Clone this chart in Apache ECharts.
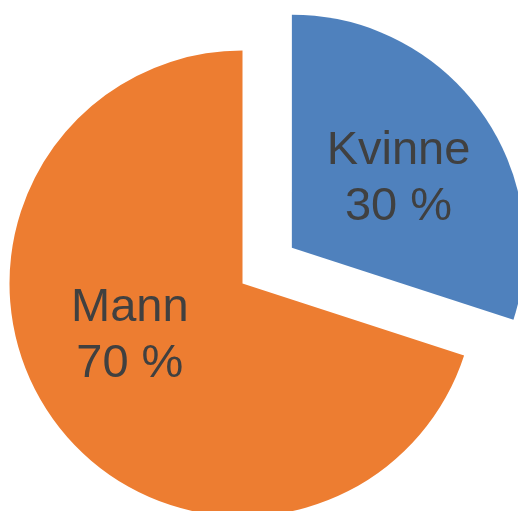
<!DOCTYPE html>
<html>
<head>
<meta charset="utf-8">
<script src="https://cdn.jsdelivr.net/npm/echarts@6/dist/echarts.min.js"></script>
<style>html,body{margin:0;padding:0;background:#fff;}#c{width:518px;height:511px;}</style>
</head>
<body>
<div id="c"></div>
<script>
var categories = ['Kvinne', 'Mann'];
var values = [30, 70];
var colors = ['#4F81BD', '#ED7D31'];
var labelOffsets = [[10, 2], [-16, -18]];

var chart = echarts.init(document.getElementById('c'), null, {renderer: 'canvas'});
chart.setOption({
  animation: false,
  series: [{
    type: 'pie',
    center: [242.5, 283.5],
    radius: [0, 233],
    startAngle: 90,
    clockwise: true,
    selectedMode: 'single',
    selectedOffset: 61,
    avoidLabelOverlap: false,
    itemStyle: {borderWidth: 0},
    emphasis: {disabled: true},
    label: {
      show: true,
      position: 'inside',
      formatter: function (p) { return p.name + '\n' + p.value + ' %'; },
      fontFamily: 'Liberation Sans, Arial, sans-serif',
      fontSize: 47,
      lineHeight: 56,
      color: '#404040',
      align: 'center',
      verticalAlign: 'middle'
    },
    labelLine: {show: false},
    data: categories.map(function (n, i) {
      return {
        name: n, value: values[i], selected: i === 0,
        itemStyle: {color: colors[i]},
        label: {offset: labelOffsets[i]},
        select: {label: {offset: labelOffsets[i]}}
      };
    })
  }]
});
</script>
</body>
</html>
